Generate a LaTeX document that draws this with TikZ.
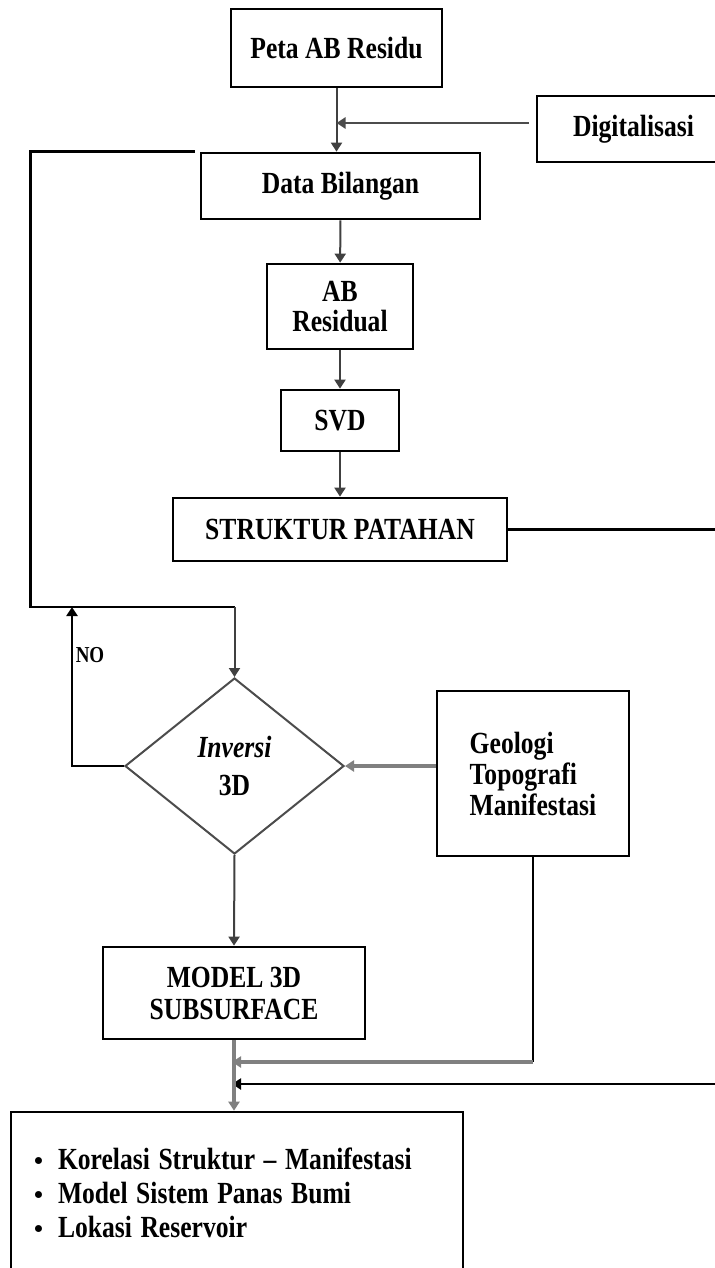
\documentclass[tikz,border=0pt]{standalone}
\usepackage{fontspec}
\setmainfont{Liberation Serif}
\usetikzlibrary{arrows.meta,shapes.geometric}
\newcommand\tl[1]{\scalebox{1}[1.2]{#1}}
\begin{document}
\begin{tikzpicture}[x=0.5pt,y=-0.5pt,
  every node/.style={font=\fontsize{12.8}{15}\selectfont\bfseries},
  box/.style={draw=black,line width=1.35pt,inner sep=0pt,align=center},
  tip/.style={-{Triangle[length=4.5pt,width=5.5pt]}},
  arr/.style={draw=black!75,line width=1pt,tip},
  garr/.style={draw=black!50,line width=2.2pt,tip},
  bline/.style={draw=black,line width=1.35pt},
  dia/.style={draw=black!70,line width=1pt,diamond,inner sep=0pt,aspect=1.25,align=center}]
\useasboundingbox (0,0) rectangle (715,1268);
\fill[white] (0,0) rectangle (715,1268);
% nodes
\node[box,minimum width=105.5pt,minimum height=39pt] (peta) at (336.5,48) {\tl{Peta AB Residu}};
\node[box,minimum width=96.5pt,minimum height=33pt] (digi) at (633.5,129) {\tl{Digitalisasi}};
\node[box,minimum width=139.5pt,minimum height=33pt] (data) at (340.5,186) {\tl{Data Bilangan}};
\node[box,minimum width=73pt,minimum height=42.5pt,font=\fontsize{12.8}{15}\selectfont\bfseries] (abres) at (340,306.5) {\tl{AB}\\\tl{Residual}};
\node[box,minimum width=59pt,minimum height=30.5pt] (svd) at (340,420.5) {\tl{SVD}};
\node[box,minimum width=167pt,minimum height=31.5pt] (struk) at (340,529.5) {\tl{STRUKTUR PATAHAN}};
\node[dia,minimum width=109.5pt,minimum height=88pt,font=\fontsize{12.8}{19}\selectfont\bfseries] (inv) at (234.5,766) {\tl{\textit{Inversi}}\\\tl{3D}};
\node[box,minimum width=96pt,minimum height=82.5pt,align=left,font=\fontsize{12.8}{15.5}\selectfont\bfseries] (geo) at (533,773.5) {\tl{Geologi}\\\tl{Topografi}\\\tl{Manifestasi}};
\node[box,minimum width=131pt,minimum height=46pt,font=\fontsize{12.8}{16}\selectfont\bfseries] (model) at (234,993) {\tl{MODEL 3D}\\\tl{SUBSURFACE}};
\node[box,minimum height=81pt,text width=203pt,inner xsep=11.5pt,align=left,font=\fontsize{12.8}{17}\selectfont\bfseries] (final) at (237,1193)
  {\makebox[12pt][l]{\textbullet}\tl{Korelasi Struktur -- Manifestasi}\\
   \makebox[12pt][l]{\textbullet}\tl{Model Sistem Panas Bumi}\\
   \makebox[12pt][l]{\textbullet}\tl{Lokasi Reservoir}};
\node[font=\fontsize{9.5}{11}\selectfont\bfseries,inner sep=0pt] (no) at (90,655) {\tl{NO}};
% coordinates
\coordinate (j1) at (336.5,123);
\coordinate (lA) at (30.5,154);
\coordinate (lB) at (30.5,607);
\coordinate (lC) at (234.5,607);
\coordinate (nB) at (72,607);
\coordinate (gA) at (533,1062);
\coordinate (gB) at (232,1062);
\coordinate (sA) at (724,529.5);
\coordinate (sB) at (724,1084);
\coordinate (sC) at (232,1084);
% connectors
\draw[arr] (peta.south) -- (peta.south |- data.north);
\draw[draw=black!70,line width=1.4pt,tip] ([xshift=-3.5pt]digi.west |- j1) -- (j1);
\draw[arr] (data) -- (abres);
\draw[arr] (abres) -- (svd);
\draw[arr] (svd) -- (struk);
\draw[bline] ([xshift=-2.5pt]data.north west) -- (data.north west -| lA) -- (lB) -- (lC);
\draw[arr] (lC) -- (inv.north);
\draw[bline,tip] (inv.west) -- (inv.west -| nB) -- (nB);
\draw[garr] (inv.east -| geo.west) -- (inv.east);
\draw[arr] (inv.south) -- (model.north);
\draw[bline] (geo.south) -- (gA);
\draw[garr] (gA) -- (gB);
\draw[bline] (struk.east) -- (sA) -- (sB);
\draw[bline,tip] (sB) -- (sC);
\draw[draw=black!50,line width=2pt,tip] (model.south) -- (model.south |- final.north);
\end{tikzpicture}
\end{document}
